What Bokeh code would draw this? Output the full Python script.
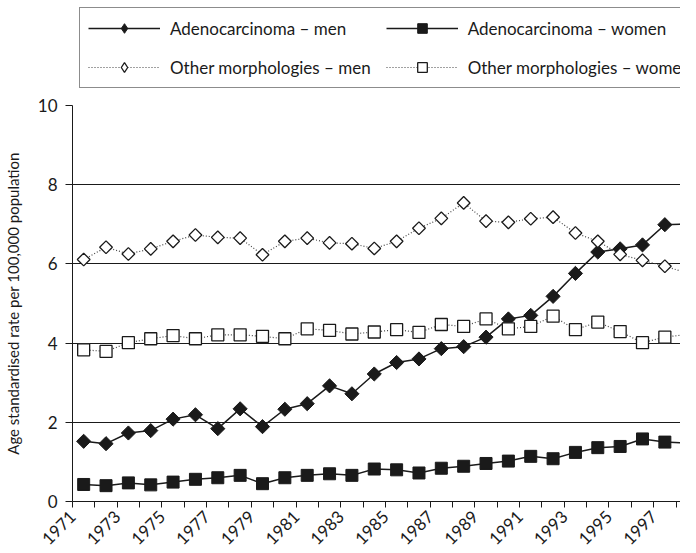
import math
from bokeh.plotting import figure
from bokeh.layouts import column
from bokeh.models import (ColumnDataSource, Legend, LegendItem, FixedTicker,
                          Range1d)
from bokeh.embed import file_html
from bokeh.resources import INLINE

# ---------------- data ----------------
years = list(range(1971, 1999))
adeno_men = [1.52, 1.46, 1.73, 1.79, 2.08, 2.19, 1.84, 2.34, 1.89, 2.33,
             2.47, 2.92, 2.72, 3.22, 3.51, 3.60, 3.86, 3.91, 4.15, 4.61,
             4.70, 5.18, 5.76, 6.30, 6.38, 6.48, 6.99, 7.01]
adeno_women = [0.43, 0.40, 0.47, 0.42, 0.49, 0.56, 0.60, 0.66, 0.45, 0.60,
               0.66, 0.70, 0.66, 0.82, 0.80, 0.72, 0.84, 0.89, 0.96, 1.02,
               1.14, 1.08, 1.24, 1.36, 1.39, 1.58, 1.50, 1.48]
other_men = [6.11, 6.42, 6.25, 6.38, 6.57, 6.73, 6.67, 6.65, 6.23, 6.57,
             6.65, 6.53, 6.51, 6.39, 6.57, 6.90, 7.15, 7.54, 7.08, 7.05,
             7.14, 7.18, 6.78, 6.57, 6.24, 6.09, 5.94, 5.77]
other_women = [3.83, 3.79, 4.01, 4.11, 4.19, 4.11, 4.21, 4.21, 4.17, 4.11,
               4.36, 4.32, 4.23, 4.28, 4.34, 4.27, 4.47, 4.42, 4.61, 4.36,
               4.42, 4.68, 4.34, 4.53, 4.29, 4.01, 4.15, 4.22]
series_labels = ["Adenocarcinoma \u2013 men", "Adenocarcinoma \u2013 women",
                 "Other morphologies \u2013 men", "Other morphologies \u2013 women"]
y_ticks = [0, 2, 4, 6, 8, 10]
x_tick_labels = [str(y) if (y - 1971) % 2 == 0 else "" for y in years]
y_title = "Age standardised rate per 100,000 population"

FONT = "Lato"
INK = "#1a1a1a"
DOT = "#444444"

STYLES = {
    "am": dict(line=dict(line_color=INK, line_width=1.5),
               mark=dict(fill_color=INK, line_color=INK)),
    "aw": dict(line=dict(line_color=INK, line_width=1.5),
               mark=dict(fill_color=INK, line_color=INK)),
    "om": dict(line=dict(line_color=DOT, line_width=1.2, line_dash="1 2"),
               mark=dict(fill_color="white", line_color=INK, line_width=1.3)),
    "ow": dict(line=dict(line_color=DOT, line_width=1.2, line_dash="1 2"),
               mark=dict(fill_color="white", line_color=INK, line_width=1.3)),
}

src = ColumnDataSource(dict(year=years, am=adeno_men, aw=adeno_women,
                            om=other_men, ow=other_women))

TOTAL_H = 553
LEG_H = 90

# ---------------- legend strip ----------------
# same series, but its ranges keep them out of view: only the legend shows
lf = figure(width=680, height=LEG_H, output_backend="svg", toolbar_location=None,
            x_range=Range1d(0, 1), y_range=Range1d(0, 1),
            min_border=0, min_border_left=0, min_border_right=0,
            min_border_top=0, min_border_bottom=0)
lf.xaxis.visible = False
lf.yaxis.visible = False
lf.grid.visible = False
lf.outline_line_color = None
leg_items = []
for key, lab, mk in [("am", series_labels[0], "diamond"),
                     ("om", series_labels[2], "diamond"),
                     ("aw", series_labels[1], "square"),
                     ("ow", series_labels[3], "square")]:
    lr = lf.line("year", key, source=src, **STYLES[key]["line"])
    sr = lf.scatter("year", key, source=src, marker=mk, **STYLES[key]["mark"])
    leg_items.append(LegendItem(label=lab, renderers=[lr, sr]))

legend = Legend(items=leg_items, ncols=2, orientation="vertical",
                location=(7, 2))
legend.margin = 0
legend.padding = 8
legend.spacing = 15
legend.glyph_width = 72
legend.glyph_height = 24
legend.label_height = 20
legend.label_standoff = 10
legend.label_text_font = FONT
legend.label_text_font_size = "17px"
legend.label_text_color = INK
legend.border_line_color = INK
legend.border_line_width = 1
legend.background_fill_color = "white"
legend.background_fill_alpha = 1
lf.add_layout(legend, "center")

# ---------------- main chart ----------------
p = figure(width=680, height=TOTAL_H - LEG_H, output_backend="svg",
           toolbar_location=None,
           x_range=Range1d(1970.5, 1997.70), y_range=Range1d(0, 10),
           min_border_left=72, min_border_right=0, min_border_top=15,
           min_border_bottom=52)
p.outline_line_color = None

for key in ["am", "aw", "om", "ow"]:
    p.line("year", key, source=src, **STYLES[key]["line"])

p.scatter("year", "am", source=src, marker="square", angle=math.pi / 4,
          size=10, **STYLES["am"]["mark"])
p.scatter("year", "aw", source=src, marker="square", size=12,
          **STYLES["aw"]["mark"])
p.scatter("year", "om", source=src, marker="square", angle=math.pi / 4,
          size=9, **STYLES["om"]["mark"])
p.scatter("year", "ow", source=src, marker="square", size=12,
          **STYLES["ow"]["mark"])

xa = p.xaxis[0]
xa.ticker = FixedTicker(ticks=[y - 0.5 for y in years])
xa.major_label_overrides = {y - 0.5: lab for y, lab in zip(years, x_tick_labels)}
xa.major_label_orientation = math.pi / 4
xa.major_tick_out = 6
xa.major_tick_in = 0
xa.minor_tick_line_color = None
xa.axis_line_color = INK
xa.major_tick_line_color = INK
xa.major_label_text_font = FONT
xa.major_label_text_font_size = "17px"
xa.major_label_text_color = INK
xa.major_label_standoff = 6

ya = p.yaxis[0]
ya.ticker = FixedTicker(ticks=y_ticks)
ya.major_tick_out = 7
ya.major_tick_in = 0
ya.minor_tick_line_color = None
ya.axis_line_color = INK
ya.major_tick_line_color = INK
ya.major_label_text_font = FONT
ya.major_label_text_font_size = "17px"
ya.major_label_text_color = INK
ya.major_label_standoff = 8
ya.axis_label = y_title
ya.axis_label_text_font = FONT
ya.axis_label_text_font_size = "15px"
ya.axis_label_text_font_style = "normal"
ya.axis_label_text_color = INK
ya.axis_label_standoff = 13

p.xgrid.grid_line_color = None
p.ygrid.ticker = FixedTicker(ticks=y_ticks)
p.ygrid.grid_line_color = INK
p.ygrid.grid_line_width = 1

layout = column(lf, p, spacing=0)
open("out.html", "w").write(file_html(layout, INLINE))
